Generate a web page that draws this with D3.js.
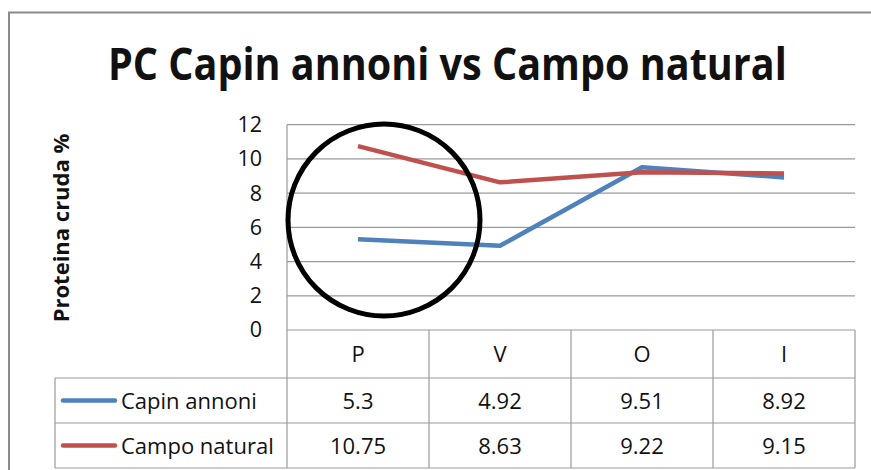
<!DOCTYPE html>
<html>
<head>
<meta charset="utf-8">
<script src="https://cdn.jsdelivr.net/npm/d3@7"></script>
<style>
  html, body { margin: 0; padding: 0; background: #fff; }
  svg { display: block; }
  text { font-family: "Open Sans", Lato, sans-serif; fill: #111; }
</style>
</head>
<body>
<svg id="chart" width="871" height="470"></svg>
<script>
const categories = ["P", "V", "O", "I"];
const seriesNames = ["Capin annoni", "Campo natural"];
const capinAnnoni = [5.3, 4.92, 9.51, 8.92];
const campoNatural = [10.75, 8.63, 9.22, 9.15];
const yTicks = [0, 2, 4, 6, 8, 10, 12];
const titleText = "PC Capin annoni vs Campo natural";
const yLabel = "Proteina cruda %";
const colors = ["#4f81bd", "#c0504d"];

const series = [
  { name: seriesNames[0], values: capinAnnoni, color: colors[0] },
  { name: seriesNames[1], values: campoNatural, color: colors[1] }
];

const svg = d3.select("#chart");
const L = 287, R = 855, T = 124.7, B = 330;
const rowH = [48, 45, 45];
const tableLeft = 55;
const grid = "#9a9a9a";
const fs = "22px";

// outer frame
svg.append("rect").attr("x", 9).attr("y", 12.5).attr("width", 900).attr("height", 500)
  .attr("fill", "none").attr("stroke", "#8a8a8a").attr("stroke-width", 2);

// title (compressed horizontally to the reference's narrow face)
const tg = svg.append("g");
const tt = tg.append("text").attr("x", 0).attr("y", 0)
  .style("font-size", "45px").style("font-weight", "bold").text(titleText);
const tw = tt.node().getComputedTextLength();
tg.attr("transform", `translate(108,80) scale(${679 / tw},1)`);

const x = d3.scaleBand().domain(categories).range([L, R]);
const y = d3.scaleLinear().domain([0, 12]).range([B, T]);

// gridlines
svg.append("g").selectAll("line").data(yTicks).join("line")
  .attr("x1", L).attr("x2", R).attr("y1", d => y(d)).attr("y2", d => y(d))
  .attr("stroke", grid).attr("stroke-width", 1.2);
// left axis line
svg.append("line").attr("x1", L).attr("x2", L).attr("y1", T).attr("y2", B + rowH[0] + rowH[1] + rowH[2])
  .attr("stroke", grid).attr("stroke-width", 1.2);

// tick labels via axis
const yAxis = d3.axisLeft(y).tickValues(yTicks).tickSize(0).tickPadding(0);
const ga = svg.append("g").attr("transform", `translate(${262},0)`).call(yAxis);
ga.select(".domain").remove();
ga.selectAll("text").style("font-size", "21.5px").style("font-family", "'Open Sans', Lato, sans-serif").attr("fill", "#111");

// y label
svg.append("text").attr("transform", `translate(69,228) rotate(-90)`)
  .attr("text-anchor", "middle").style("font-size", "22px").style("font-weight", "bold").text(yLabel);

// table
const r0 = B, r1 = B + rowH[0], r2 = r1 + rowH[1], r3 = r2 + rowH[2];
[r1, r2, r3].forEach(yy => svg.append("line").attr("x1", tableLeft).attr("x2", R)
  .attr("y1", yy).attr("y2", yy).attr("stroke", grid).attr("stroke-width", 1.2));
svg.append("line").attr("x1", tableLeft).attr("x2", tableLeft).attr("y1", r1).attr("y2", r3)
  .attr("stroke", grid).attr("stroke-width", 1.2);
const bounds = categories.map(c => x(c) + x.bandwidth());
svg.append("g").selectAll("line").data(bounds).join("line")
  .attr("x1", d => d).attr("x2", d => d).attr("y1", r0).attr("y2", r3)
  .attr("stroke", grid).attr("stroke-width", 1.2);

svg.append("g").selectAll("text").data(categories).join("text")
  .attr("x", d => x(d) + x.bandwidth() / 2).attr("y", (r0 + r1) / 2 + 8)
  .attr("text-anchor", "middle").style("font-size", fs).text(d => d);

const rowY = [(r1 + r2) / 2, (r2 + r3) / 2];
series.forEach((s, i) => {
  svg.append("line").attr("x1", 63).attr("x2", 115).attr("y1", rowY[i]).attr("y2", rowY[i])
    .attr("stroke", s.color).attr("stroke-width", 4.5).attr("stroke-linecap", "round");
  svg.append("text").attr("x", 121).attr("y", rowY[i] + 8).style("font-size", fs).text(s.name);
  svg.append("g").selectAll("text").data(s.values).join("text")
    .attr("x", (d, j) => x(categories[j]) + x.bandwidth() / 2).attr("y", rowY[i] + 8)
    .attr("text-anchor", "middle").style("font-size", fs).text(d => d);
});

// lines
const line = d3.line().x((d, j) => x(categories[j]) + x.bandwidth() / 2).y(d => y(d));
series.forEach(s => {
  svg.append("path").datum(s.values).attr("d", line).attr("fill", "none")
    .attr("stroke", s.color).attr("stroke-width", 4.5).attr("stroke-linejoin", "round");
});

// annotation circle
svg.append("circle").attr("cx", 384).attr("cy", 220).attr("r", 96)
  .attr("fill", "none").attr("stroke", "#000").attr("stroke-width", 5);
</script>
</body>
</html>
